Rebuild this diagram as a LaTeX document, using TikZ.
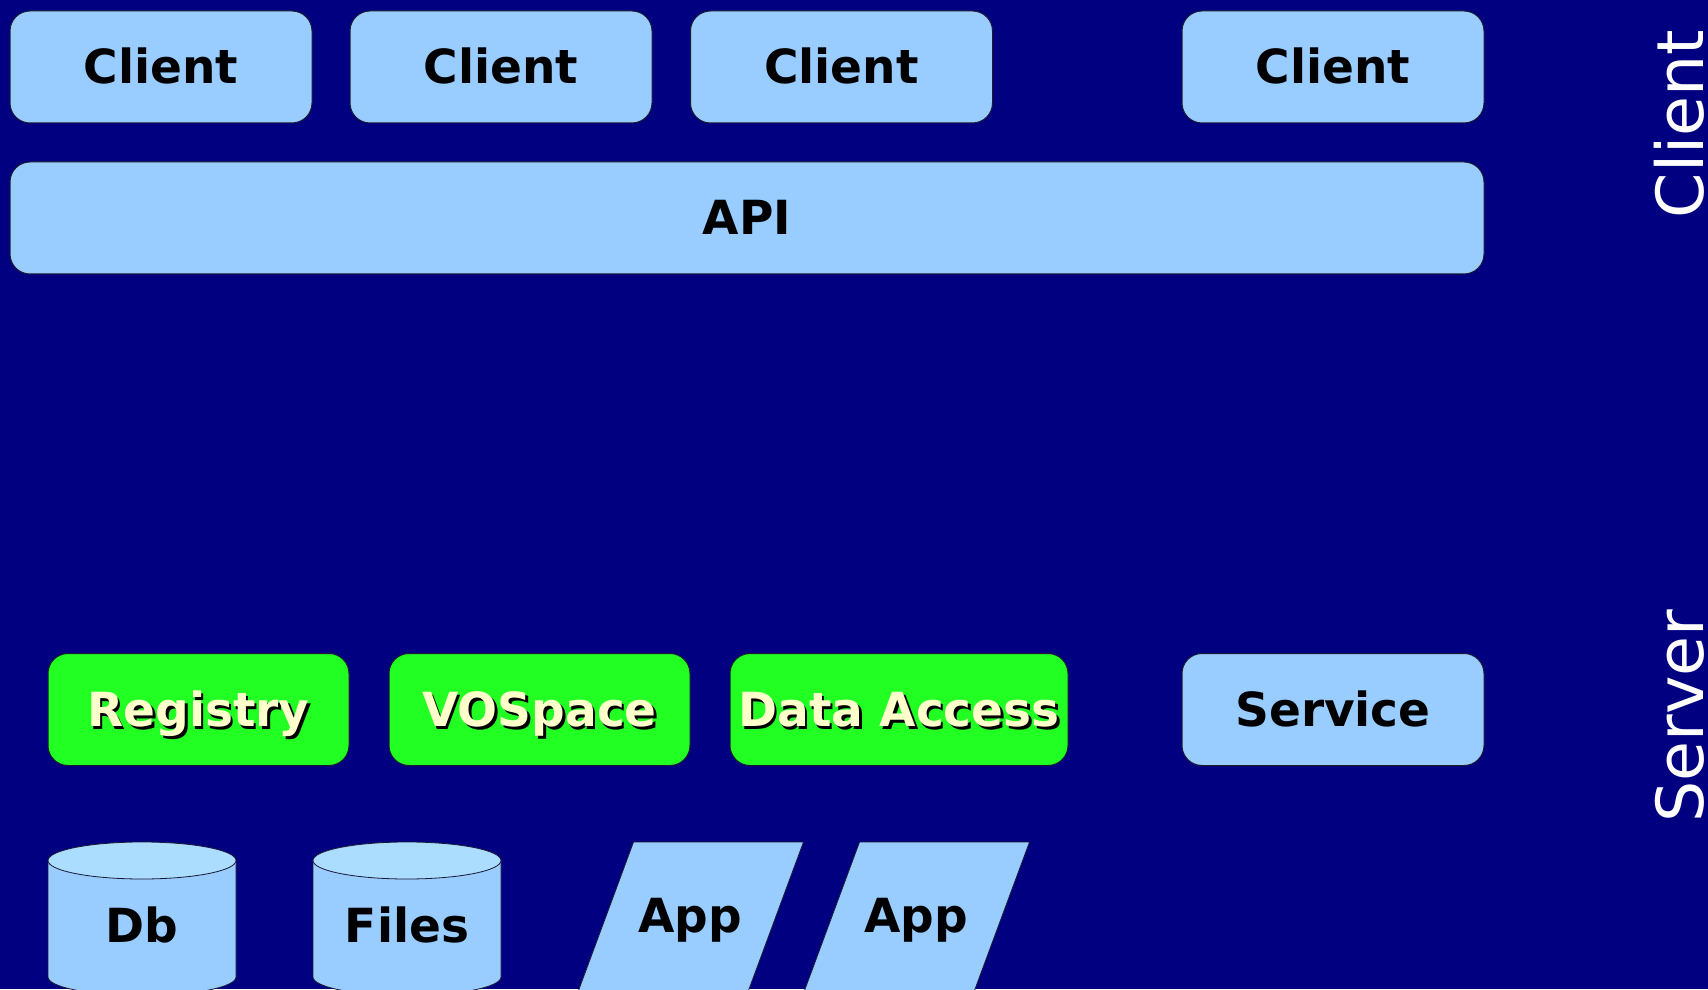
\documentclass[tikz,border=0pt]{standalone}
\usepackage{xcolor}
\usepackage{fontspec}
\setmainfont{DejaVu Sans}
\usepackage{tikz}
\definecolor{bg}{HTML}{000080}
\definecolor{box}{HTML}{99CCFF}
\definecolor{boxtop}{HTML}{AADDFF}
\definecolor{svc}{HTML}{22FF22}
\definecolor{cream}{HTML}{FFFFCC}
\definecolor{edge}{HTML}{1A1A33}
\newcommand{\embossed}[1]{\makebox[0pt][l]{\hspace{2.5pt}\raisebox{-2.5pt}{\color{black}#1}}#1}
\tikzset{
  tile/.style={draw=edge, line width=1pt, fill=box, rounded corners=20pt, inner sep=0pt,
    minimum width=302pt, minimum height=112pt, text height=34pt, text depth=0pt,
    font=\fontsize{47}{49}\selectfont\bfseries, text=black},
  green/.style={tile, fill=svc, text=cream},
  store/.style={draw=edge, line width=0.8pt, fill=box},
  storetop/.style={draw=edge, line width=0.8pt, fill=boxtop},
  lab/.style={inner sep=0pt, text height=34pt, text depth=0pt,
    font=\fontsize{47}{49}\selectfont\bfseries, text=black},
  side/.style={inner sep=0pt, font=\fontsize{65}{67}\selectfont, text=white},
}
\begin{document}
\begin{tikzpicture}[x=1pt, y=1pt]
  \useasboundingbox (0,0) rectangle (1708,989);
  \clip (0,0) rectangle (1708,989);
  \fill[bg] (0,0) rectangle (1708,989);

  % client layer
  \node[tile] (client1) at (161,922) {Client};
  \node[tile] (client2) at (501,922) {Client};
  \node[tile] (client3) at (841.5,922) {Client};
  \node[tile] (client4) at (1333,922) {Client};
  \node[tile, minimum width=1474pt] (api) at (747,771) {API};

  % server layer
  \node[green, minimum width=301pt] (registry) at (198.5,279.5) {\embossed{Registry}};
  \node[green, minimum width=301pt] (vospace) at (539.5,279.5) {\embossed{VOSpace}};
  \node[green, minimum width=338pt] (dataaccess) at (899,279.5) {\embossed{Data Access}};
  \node[tile] (service) at (1333,279.5) {Service};

  % storage
  \def\ry{18.5}
  \filldraw[store] (48,128.5) -- (48,12) arc[start angle=180, end angle=360, x radius=94, y radius=\ry] -- (236,128.5) -- cycle;
  \filldraw[storetop] (142,128.5) ellipse[x radius=94, y radius=\ry];
  \node[lab] (db) at (142,64) {Db};

  \filldraw[store] (313,128.5) -- (313,12) arc[start angle=180, end angle=360, x radius=94, y radius=\ry] -- (501,128.5) -- cycle;
  \filldraw[storetop] (407,128.5) ellipse[x radius=94, y radius=\ry];
  \node[lab] (files) at (407,64) {Files};

  % apps
  \filldraw[store] (633.5,147) -- (803.5,147) -- (743.5,-15) -- (573.5,-15) -- cycle;
  \node[lab] (app1) at (690,73.5) {App};
  \filldraw[store] (859.5,147) -- (1029.5,147) -- (969.5,-15) -- (799.5,-15) -- cycle;
  \node[lab] (app2) at (916,73.5) {App};

  % layer names
  \node[side, anchor=base, rotate=90] (clientside) at (1703,865) {Client};
  \node[side, anchor=base, rotate=90] (serverside) at (1703,273) {Server};
\end{tikzpicture}
\end{document}
